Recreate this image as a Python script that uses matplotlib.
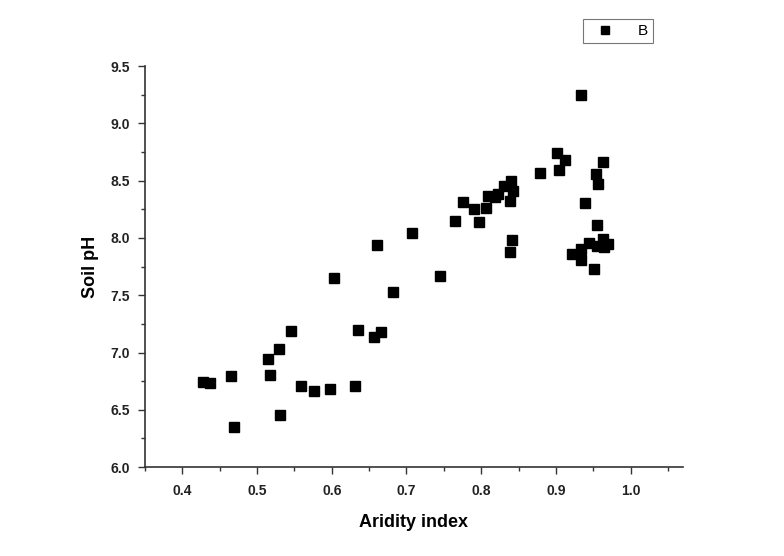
import matplotlib
matplotlib.use("Agg")
import matplotlib.pyplot as plt
from matplotlib.ticker import MultipleLocator

plt.rcParams['font.family'] = ['Liberation Sans', 'DejaVu Sans']

aridity = [0.428, 0.437, 0.465, 0.469, 0.515, 0.517, 0.530, 0.531, 0.545, 0.559,
           0.576, 0.598, 0.603, 0.631, 0.635, 0.657, 0.666, 0.661, 0.682, 0.708,
           0.745, 0.765, 0.775, 0.791, 0.797, 0.806, 0.809, 0.818, 0.822, 0.831,
           0.839, 0.840, 0.843, 0.841, 0.839, 0.879, 0.902, 0.912, 0.904, 0.933,
           0.922, 0.934, 0.934, 0.939, 0.951, 0.944, 0.955, 0.954, 0.957, 0.963,
           0.955, 0.963, 0.970, 0.964]
soil_ph = [6.746, 6.731, 6.795, 6.351, 6.940, 6.804, 7.030, 6.453, 7.184, 6.710,
           6.667, 6.681, 7.652, 6.708, 7.193, 7.135, 7.178, 7.936, 7.526, 8.047,
           7.667, 8.149, 8.310, 8.251, 8.140, 8.266, 8.368, 8.354, 8.380, 8.456,
           8.320, 8.500, 8.410, 7.980, 7.877, 8.567, 8.743, 8.684, 8.596, 9.251,
           7.857, 7.900, 7.810, 8.304, 7.731, 7.959, 8.114, 8.558, 8.471, 8.667,
           7.930, 7.988, 7.944, 7.924]

fig = plt.figure(figsize=(7.84, 5.56), dpi=100)
ax = fig.add_axes([0.185, 0.160, 0.686, 0.721])

ax.plot(aridity, soil_ph, linestyle='none', marker='s', markersize=7.5,
        color='black', label='B')

ax.set_xlim(0.35, 1.07)
ax.set_ylim(6.0, 9.5)
ax.xaxis.set_major_locator(MultipleLocator(0.1))
ax.xaxis.set_minor_locator(MultipleLocator(0.05))
ax.yaxis.set_major_locator(MultipleLocator(0.5))
ax.yaxis.set_minor_locator(MultipleLocator(0.25))
ax.set_xticks([0.4, 0.5, 0.6, 0.7, 0.8, 0.9, 1.0])
ax.set_xticklabels(['0.4', '0.5', '0.6', '0.7', '0.8', '0.9', '1.0'])

for s in ['top', 'right']:
    ax.spines[s].set_visible(False)
for s in ['left', 'bottom']:
    ax.spines[s].set_color('#333333')
    ax.spines[s].set_linewidth(1.2)

ax.tick_params(which='major', direction='out', length=5, width=1.0,
               colors='#333333', labelsize=10)
ax.tick_params(axis='x', which='major', pad=7)
ax.tick_params(axis='y', which='major', pad=6)
ax.tick_params(which='minor', direction='out', length=3, width=1.0,
               colors='#333333')
for lab in ax.get_xticklabels() + ax.get_yticklabels():
    lab.set_fontweight('bold')
    lab.set_color('#222222')

ax.set_xlabel('Aridity index', fontsize=13, fontweight='bold', labelpad=12)
ax.set_ylabel('Soil pH', fontsize=13, fontweight='bold', labelpad=8)

leg = fig.legend(loc='center', bbox_to_anchor=(618 / 784, 1 - 31 / 556),
                 frameon=True, fancybox=False, edgecolor='#555555',
                 fontsize=11, handletextpad=1.0, borderpad=0.35,
                 handlelength=2.2, markerscale=0.8)
leg.get_frame().set_linewidth(0.8)

fig.savefig('out.png', dpi=100, facecolor='white')
